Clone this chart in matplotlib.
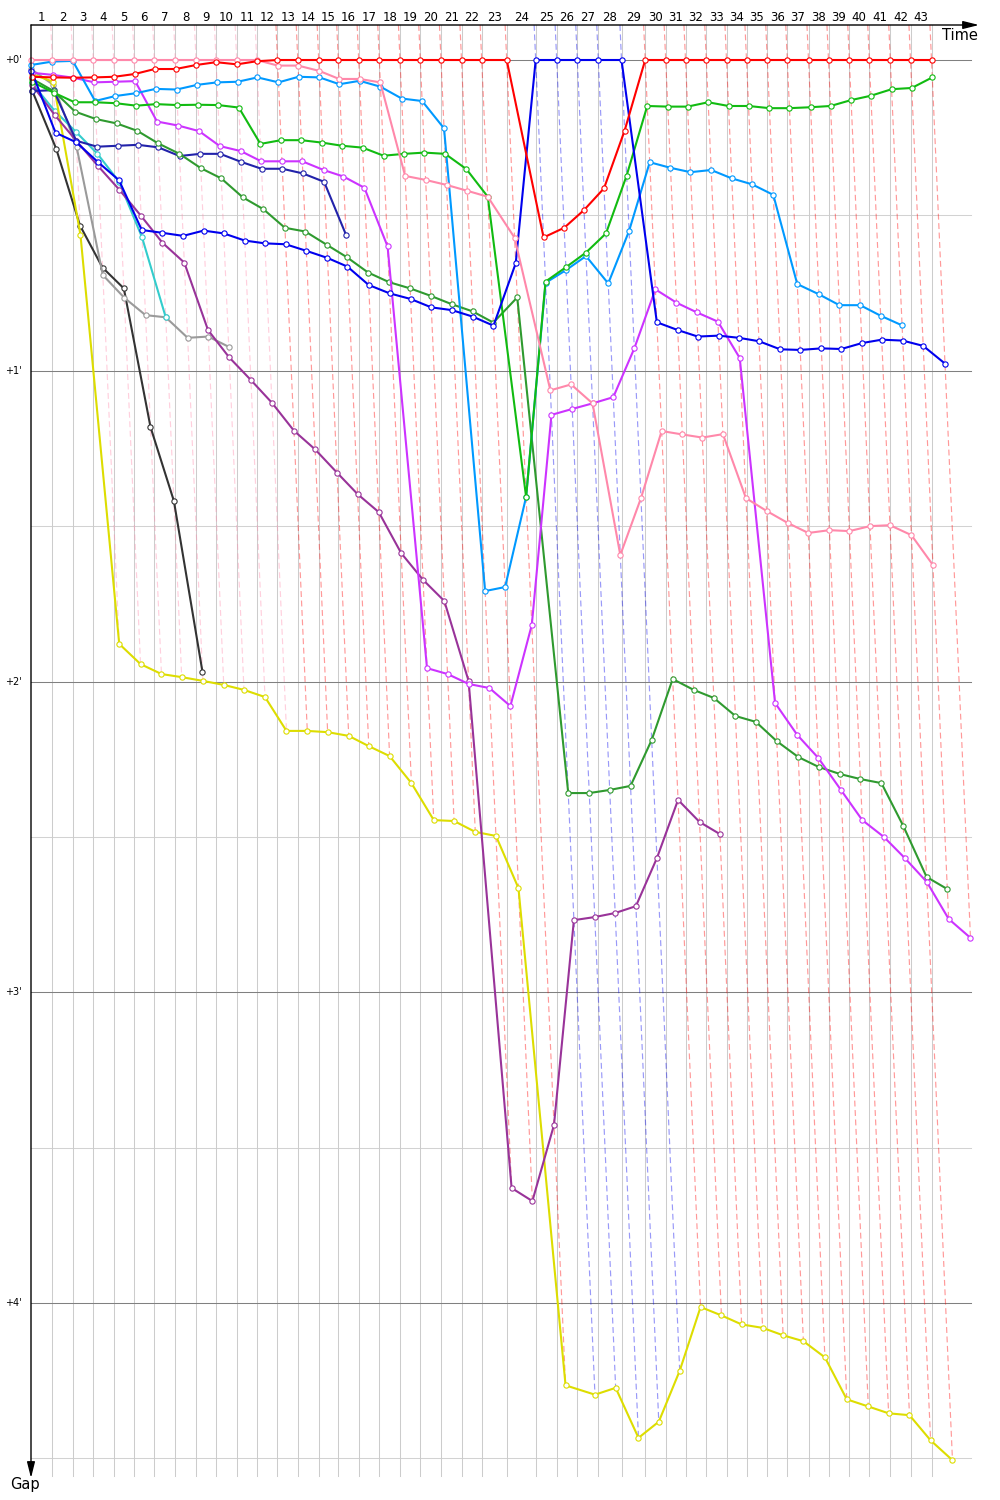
import matplotlib
matplotlib.use("Agg")
import matplotlib.pyplot as plt

# leader's elapsed time at the end of each lap (minutes), index = lap number
leader_time = [0, 1.543, 3.022, 4.514, 5.993, 7.478, 8.935, 10.457, 11.957, 13.406,
               14.906, 16.355, 17.862, 19.333, 20.848, 22.268, 23.746, 25.239, 26.739,
               28.210, 29.710, 31.196, 32.659, 34.471, 36.572, 38.094, 39.587, 41.109,
               42.790, 44.507, 45.993, 47.428, 48.935, 50.399, 51.848, 53.355, 54.804,
               56.341, 57.790, 59.297, 60.746, 62.268, 63.732, 65.254]

# gap to the leader (minutes) at the end of each lap, index = lap number
red = [0.054, 0.056, 0.057, 0.056, 0.054, 0.045, 0.029, 0.029, 0.016, 0.007, 0.014, 0.004,
       0, 0, 0, 0, 0, 0, 0, 0, 0, 0, 0, 0,
       0.571, 0.54, 0.483, 0.413, 0.227,
       0, 0, 0, 0, 0, 0, 0, 0, 0, 0, 0, 0, 0, 0, 0]
pink = [0, 0, 0, 0, 0, 0, 0, 0, 0, 0, 0, 0,
        0.018, 0.018, 0.035, 0.061, 0.061, 0.072, 0.373, 0.386, 0.402, 0.421, 0.44, 0.572,
        1.063, 1.044, 1.105, 1.593, 1.41, 1.194, 1.205, 1.215, 1.204, 1.41, 1.451, 1.49,
        1.522, 1.513, 1.516, 1.5, 1.497, 1.529, 1.625]
light_blue = [0.016, 0.005, 0.003, 0.132, 0.116, 0.107, 0.093, 0.095, 0.08, 0.072, 0.07,
              0.056, 0.072, 0.054, 0.056, 0.078, 0.067, 0.086, 0.124, 0.132, 0.22, 1.709,
              1.696, 1.406, 0.717, 0.676, 0.631, 0.719, 0.55, 0.329, 0.347, 0.361, 0.354,
              0.381, 0.4, 0.434, 0.721, 0.754, 0.789, 0.789, 0.823, 0.854]
green = [0.07, 0.105, 0.136, 0.136, 0.139, 0.147, 0.142, 0.145, 0.144, 0.145, 0.153, 0.27,
         0.258, 0.258, 0.266, 0.276, 0.282, 0.308, 0.302, 0.298, 0.302, 0.351, 0.44, 1.406,
         0.713, 0.667, 0.62, 0.558, 0.372, 0.148, 0.15, 0.15, 0.136, 0.148, 0.148, 0.155,
         0.155, 0.152, 0.148, 0.129, 0.115, 0.094, 0.09, 0.056]
dark_green = [0.06, 0.1, 0.166, 0.19, 0.204, 0.228, 0.268, 0.302, 0.348, 0.381, 0.442, 0.48,
              0.54, 0.552, 0.595, 0.635, 0.684, 0.715, 0.735, 0.759, 0.786, 0.809, 0.845,
              0.764, 2.359, 2.359, 2.349, 2.336, 2.188, 1.992, 2.027, 2.053, 2.111, 2.13,
              2.192, 2.243, 2.275, 2.298, 2.314, 2.327, 2.465, 2.629, 2.668]
blue = [0.035, 0.234, 0.265, 0.328, 0.387, 0.547, 0.556, 0.566, 0.549, 0.558, 0.581, 0.59,
        0.593, 0.614, 0.637, 0.665, 0.724, 0.751, 0.769, 0.796, 0.805, 0.826, 0.855, 0.654,
        0, 0, 0, 0, 0,
        0.844, 0.869, 0.89, 0.887, 0.894, 0.905, 0.931, 0.933, 0.928, 0.93, 0.911, 0.9,
        0.903, 0.92, 0.977]
navy = [0.1, 0.097, 0.26, 0.279, 0.276, 0.273, 0.281, 0.309, 0.302, 0.302, 0.328, 0.35,
        0.35, 0.365, 0.392, 0.563]
magenta = [0.041, 0.048, 0.057, 0.072, 0.07, 0.068, 0.198, 0.211, 0.229, 0.277, 0.293,
           0.326, 0.326, 0.326, 0.354, 0.375, 0.411, 0.6, 1.957, 1.976, 2.008, 2.021, 2.079,
           1.818, 1.142, 1.123, 1.105, 1.085, 0.928, 0.738, 0.781, 0.812, 0.842, 0.959,
           2.069, 2.172, 2.246, 2.349, 2.446, 2.5, 2.568, 2.645, 2.764, 2.825]
purple = [0.08, 0.177, 0.26, 0.341, 0.418, 0.502, 0.588, 0.652, 0.869, 0.957, 1.03, 1.103,
          1.193, 1.253, 1.328, 1.397, 1.455, 1.587, 1.673, 1.741, 1.998, 3.63, 3.672, 3.427,
          2.768, 2.758, 2.745, 2.723, 2.568, 2.381, 2.452, 2.491]
yellow = [0.045, 0.07, 0.563, 1.879, 1.944, 1.976, 1.986, 1.998, 2.011, 2.027, 2.05, 2.159,
          2.159, 2.163, 2.175, 2.208, 2.24, 2.327, 2.446, 2.449, 2.484, 2.497, 2.665, 4.265,
          4.295, 4.273, 4.434, 4.382, 4.218, 4.013, 4.04, 4.069, 4.08, 4.104, 4.123, 4.175,
          4.31, 4.333, 4.355, 4.361, 4.442, 4.506]
black = [0.1, 0.286, 0.533, 0.668, 0.735, 1.181, 1.419, 1.969]
gray = [0.03, 0.08, 0.279, 0.692, 0.765, 0.821, 0.828, 0.894, 0.89, 0.923]
cyan = [0.075, 0.163, 0.231, 0.302, 0.392, 0.571, 0.828]

drivers = [
    (black, "#333333"),
    (gray, "#9a9a9a"),
    (cyan, "#33cccc"),
    (yellow, "#dddd00"),
    (purple, "#993399"),
    (navy, "#2222aa"),
    (dark_green, "#2f9a2f"),
    (magenta, "#cc33ff"),
    (light_blue, "#0099ff"),
    (green, "#11bb11"),
    (blue, "#0000ee"),
    (pink, "#ff88aa"),
    (red, "#ff0000"),
]

gap_ticks = [0, 1, 2, 3, 4]
gap_minor = [0.5, 1.5, 2.5, 3.5, 4.5]

# pixel layout of the original picture
def tx(px):
    return (px - 31) / 13.8

def ty(py):
    return (py - 60) / 310.75

fig = plt.figure(figsize=(10, 15), dpi=100)
ax = fig.add_axes([0, 0, 1, 1])
ax.set_xlim(tx(0), tx(1000))
ax.set_ylim(ty(1500), ty(0))
ax.axis("off")

g_top, g_bot = ty(25), ty(1476)
x_end = tx(971)

# grid
for g in gap_minor:
    ax.plot([0, x_end], [g, g], color="#d2d2d2", lw=0.75, zorder=1)
for g in gap_ticks:
    ax.plot([0, x_end], [g, g], color="#808080", lw=0.75, zorder=1.2)
    ax.text(tx(22), g, f"+{g}'", ha="right", va="center", fontsize=7)
for t in leader_time[1:]:
    ax.plot([t, t], [g_top, g_bot], color="#cccccc", lw=0.75, zorder=1)

# lap lines, coloured after the leader of that lap
n_laps = len(leader_time) - 1
for k in range(1, n_laps + 1):
    lap = [(g, c) for g_list, c in drivers if len(g_list) > k for g in [g_list[k]]]
    lead_col = min(lap, key=lambda p: p[0])[1]
    g_max = max(p[0] for p in lap)
    t = leader_time[k]
    ax.plot([t + g_top, t + g_max], [g_top, g_max], color=lead_col, alpha=0.4,
            lw=0.85, ls=(0, (5, 3)), zorder=2)
    ax.text((leader_time[k - 1] + t) / 2, ty(17), str(k), ha="center", va="center",
            fontsize=8.5)

# drivers
for gaps, col in drivers:
    xs = [leader_time[i] + g for i, g in enumerate(gaps)]
    ax.plot(xs, gaps, color=col, lw=1.5, marker="o", ms=3.8, mfc="white", mec=col,
            mew=0.8, zorder=3)

# axes with arrows
arrow = dict(arrowstyle="-|>,head_length=0.6,head_width=0.15", color="black", lw=1.0,
             shrinkA=0, shrinkB=0, mutation_scale=16)
ax.annotate("", xy=(tx(979), g_top), xytext=(0, g_top), arrowprops=arrow, zorder=5)
ax.annotate("", xy=(0, ty(1478)), xytext=(0, g_top), arrowprops=arrow, zorder=5)
ax.text(tx(960), ty(35), "Time", ha="center", va="center", fontsize=10.5)
ax.text(tx(25), ty(1485), "Gap", ha="center", va="center", fontsize=10.5)

plt.savefig("out.png", dpi=100)
